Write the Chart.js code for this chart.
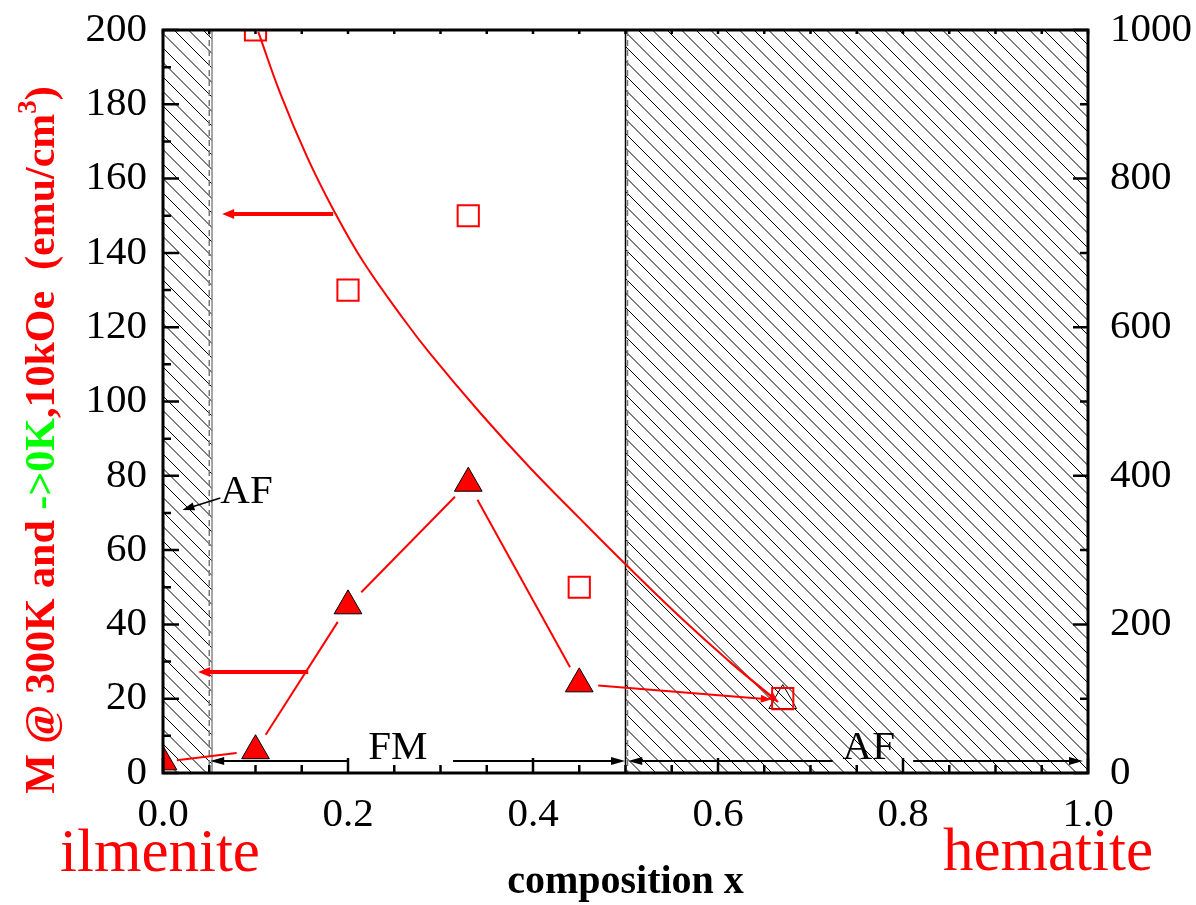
<!DOCTYPE html>
<html>
<head>
<meta charset="utf-8">
<script src="https://cdn.jsdelivr.net/npm/chart.js@4.4.1/dist/chart.umd.min.js"></script>
<style>
  body { margin: 0; background: #fff; }
  #chart { display: block; }
</style>
</head>
<body>
<canvas id="chart" width="1196" height="905"></canvas>
<script>
// データここから
const compX = [0, 0.1, 0.2, 0.33, 0.45, 0.67];
const m300K = [3, 6, 45, 78, 24, 19.5];

const squareX = [0.1, 0.2, 0.33, 0.45, 0.67];
const m0K = [200, 130, 150, 50, 20];

// 曲線 (画像から読んだ点)
const fitX = [0.103, 0.127, 0.156, 0.184, 0.216, 0.26, 0.289, 0.343, 0.397, 0.451, 0.502, 0.559, 0.613, 0.665];
const fitY = [199.5, 182.8, 165.7, 151.7, 137.8, 122.2, 112.8, 96.9, 82.1, 68.4, 55.7, 42.0, 29.9, 19.1];

const xTicks = [0, 0.2, 0.4, 0.6, 0.8, 1.0];
const yTicks = [0, 20, 40, 60, 80, 100, 120, 140, 160, 180, 200];
const y2Ticks = [0, 200, 400, 600, 800, 1000];

// AF 領域 (x の範囲)
const afRegions = [[0, 0.053], [0.5, 1.0]];
// データここまで

const RED = "#ff0000";
const GREEN = "#00ff00";
const SERIF = "'Liberation Serif', 'Times New Roman', serif";

Chart.defaults.font.family = SERIF;
Chart.defaults.color = "#000";

function toPoints(xs, ys) {
    return xs.map((v, i) => ({ x: v, y: ys[i] }));
}

// 矢印を描く
function arrow(ctx, x0, y0, x1, y1, len, half, color, width) {
    const ang = Math.atan2(y1 - y0, x1 - x0);
    ctx.save();
    ctx.strokeStyle = color;
    ctx.fillStyle = color;
    ctx.lineWidth = width;
    ctx.beginPath();
    ctx.moveTo(x0, y0);
    ctx.lineTo(x1 - Math.cos(ang) * len * 0.6, y1 - Math.sin(ang) * len * 0.6);
    ctx.stroke();
    ctx.beginPath();
    ctx.moveTo(x1, y1);
    ctx.lineTo(x1 - Math.cos(ang) * len + Math.sin(ang) * half, y1 - Math.sin(ang) * len - Math.cos(ang) * half);
    ctx.lineTo(x1 - Math.cos(ang) * len - Math.sin(ang) * half, y1 - Math.sin(ang) * len + Math.cos(ang) * half);
    ctx.closePath();
    ctx.fill();
    ctx.restore();
}

// 斜線の領域
const hatchPlugin = {
    id: "hatch",
    beforeDatasetsDraw(chart) {
        const { ctx, chartArea: a, scales } = chart;
        const x = scales.x;
        const h = a.bottom - a.top;
        for (const [x0, x1] of afRegions) {
            const l = x.getPixelForValue(x0);
            const r = x.getPixelForValue(x1);
            ctx.save();
            ctx.beginPath();
            ctx.rect(l, a.top, r - l, h);
            ctx.clip();
            ctx.strokeStyle = "#000";
            ctx.lineWidth = 1;
            ctx.beginPath();
            for (let s = a.left - h; s < a.right; s += 14.5) {
                ctx.moveTo(s, a.top);
                ctx.lineTo(s + h, a.bottom);
            }
            ctx.stroke();
            ctx.restore();
        }
        // 境界線
        ctx.save();
        const e1 = x.getPixelForValue(afRegions[0][1]);
        ctx.strokeStyle = "#888";
        ctx.lineWidth = 1.5;
        ctx.beginPath();
        ctx.moveTo(e1, a.top);
        ctx.lineTo(e1, a.bottom);
        ctx.stroke();
        const e2 = x.getPixelForValue(afRegions[1][0]);
        ctx.strokeStyle = "#000";
        ctx.beginPath();
        ctx.moveTo(e2, a.top);
        ctx.lineTo(e2, a.bottom);
        ctx.stroke();
        ctx.setLineDash([6, 4]);
        ctx.strokeStyle = "#777";
        ctx.beginPath();
        ctx.moveTo(x.getPixelForValue(0.05), a.top);
        ctx.lineTo(x.getPixelForValue(0.05), a.bottom);
        ctx.moveTo(e2 + 2, a.top);
        ctx.lineTo(e2 + 2, a.bottom);
        ctx.stroke();
        ctx.restore();

        // 三角の点をつなぐ線 (点の近くは空ける)
        const y = scales.y;
        for (let i = 0; i < compX.length - 1; i++) {
            const px0 = x.getPixelForValue(compX[i]), py0 = y.getPixelForValue(m300K[i]);
            const px1 = x.getPixelForValue(compX[i + 1]), py1 = y.getPixelForValue(m300K[i + 1]);
            const d = Math.hypot(px1 - px0, py1 - py0);
            const ux = (px1 - px0) / d, uy = (py1 - py0) / d;
            const last = i === compX.length - 2;
            const g0 = i === 0 ? 14 : 19;
            const g1 = last ? 12 : 19;
            if (last) {
                arrow(ctx, px0 + ux * g0, py0 + uy * g0, px1 - ux * g1, py1 - uy * g1, 10, 4, RED, 2);
            } else {
                ctx.save();
                ctx.strokeStyle = RED;
                ctx.lineWidth = 2;
                ctx.beginPath();
                ctx.moveTo(px0 + ux * g0, py0 + uy * g0);
                ctx.lineTo(px1 - ux * g1, py1 - uy * g1);
                ctx.stroke();
                ctx.restore();
            }
        }
    },
};

// 枠、目盛り、注記
const framePlugin = {
    id: "frame",
    afterDraw(chart) {
        const { ctx, chartArea: a, scales } = chart;
        const x = scales.x, y = scales.y, y2 = scales.y2;

        // 曲線の先の矢印
        const n = fitX.length;
        arrow(ctx,
            x.getPixelForValue(fitX[n - 2]), y.getPixelForValue(fitY[n - 2]),
            x.getPixelForValue(fitX[n - 1]), y.getPixelForValue(fitY[n - 1]),
            10, 4, RED, 2);

        // 赤い矢印 (どちらの軸か)
        arrow(ctx, x.getPixelForValue(0.184), y.getPixelForValue(150.5), x.getPixelForValue(0.064), y.getPixelForValue(150.5), 12, 5, RED, 4);
        arrow(ctx, x.getPixelForValue(0.157), y.getPixelForValue(27.2), x.getPixelForValue(0.038), y.getPixelForValue(27.2), 12, 5, RED, 4);

        // FM / AF の範囲矢印
        const yl = y.getPixelForValue(3.2);
        arrow(ctx, x.getPixelForValue(0.2), yl, x.getPixelForValue(0.051), yl, 14, 4, "#000", 2);
        arrow(ctx, x.getPixelForValue(0.3135), yl, x.getPixelForValue(0.4995), yl, 14, 4, "#000", 2);
        arrow(ctx, x.getPixelForValue(0.724), yl, x.getPixelForValue(0.503), yl, 14, 4, "#000", 2);
        arrow(ctx, x.getPixelForValue(0.811), yl, x.getPixelForValue(0.9946), yl, 14, 4, "#000", 2);
        arrow(ctx, x.getPixelForValue(0.062), y.getPixelForValue(74), x.getPixelForValue(0.021), y.getPixelForValue(70.8), 12, 4, "#000", 1.5);

        ctx.save();
        ctx.fillStyle = "#000";
        ctx.font = "41px " + SERIF;
        ctx.textBaseline = "alphabetic";
        ctx.textAlign = "center";
        ctx.fillText("FM", x.getPixelForValue(0.254), y.getPixelForValue(3.8));
        ctx.fillText("AF", x.getPixelForValue(0.763), y.getPixelForValue(3.8));
        ctx.textAlign = "left";
        ctx.fillText("AF", x.getPixelForValue(0.062), y.getPixelForValue(72.7));
        ctx.restore();

        // 内向きの目盛り
        ctx.save();
        ctx.strokeStyle = "#000";
        ctx.lineWidth = 2.5;
        ctx.beginPath();
        for (let k = 0; k <= 20; k++) {
            const v = k * 0.05;
            const px = x.getPixelForValue(v);
            const major = k % 4 === 0;
            ctx.moveTo(px, a.bottom);
            ctx.lineTo(px, a.bottom - (major ? 15 : 8));
            ctx.moveTo(px, a.top);
            ctx.lineTo(px, a.top + 4);
        }
        for (let v = 0; v <= 200; v += 10) {
            const py = y.getPixelForValue(v);
            ctx.moveTo(a.left, py);
            ctx.lineTo(a.left + (v % 20 === 0 ? 16 : 8), py);
        }
        for (let v = 0; v <= 1000; v += 100) {
            const py = y2.getPixelForValue(v);
            ctx.moveTo(a.right, py);
            ctx.lineTo(a.right - (v % 200 === 0 ? 15 : 8), py);
        }
        ctx.stroke();
        ctx.lineWidth = 3;
        ctx.strokeRect(a.left, a.top, a.right - a.left, a.bottom - a.top);
        ctx.restore();

        // ilmenite / hematite
        ctx.save();
        ctx.fillStyle = RED;
        ctx.font = "61px " + SERIF;
        ctx.textAlign = "center";
        ctx.textBaseline = "alphabetic";
        ctx.fillText("ilmenite", 160, 871);
        ctx.fillText("hematite", 1048, 870);
        ctx.restore();

        // 縦軸タイトル (色分け)
        const parts = [
            { t: "M @ 300K and ", c: RED },
            { t: "->0K", c: GREEN },
            { t: ",10kOe  (emu/cm", c: RED },
            { t: "3", c: RED, sup: true },
            { t: ")", c: RED },
        ];
        const big = "bold 42px " + SERIF;
        const small = "bold 27px " + SERIF;
        ctx.save();
        let total = 0;
        for (const p of parts) {
            ctx.font = p.sup ? small : big;
            p.w = ctx.measureText(p.t).width;
            total += p.w;
        }
        ctx.translate(54, 440);
        ctx.rotate(-Math.PI / 2);
        let cx = -total / 2;
        ctx.textAlign = "left";
        ctx.textBaseline = "alphabetic";
        for (const p of parts) {
            ctx.font = p.sup ? small : big;
            ctx.fillStyle = p.c;
            ctx.fillText(p.t, cx, p.sup ? -18 : 0);
            cx += p.w;
        }
        ctx.restore();
    },
};

const tickFont = { family: SERIF, size: 41, lineHeight: 1 };

// 軸ラベルのはみ出し分の余白をなくす
function noPad(s) {
    s.paddingTop = 0;
    s.paddingBottom = 0;
    s.paddingLeft = 0;
    s.paddingRight = 0;
}

const chart = new Chart(document.getElementById("chart"), {
    type: "scatter",
    data: {
        datasets: [
            {
                label: "->0K",
                data: toPoints(squareX, m0K),
                pointStyle: "rect",
                pointRadius: 15,
                pointBorderWidth: 2,
                pointBorderColor: RED,
                pointBackgroundColor: "rgba(255,255,255,0)",
                yAxisID: "y",
            },
            {
                label: "fit",
                data: toPoints(fitX, fitY),
                showLine: true,
                tension: 0.4,
                borderColor: RED,
                borderWidth: 2,
                pointRadius: 0,
                yAxisID: "y",
            },
            {
                label: "300K",
                data: toPoints(compX, m300K),
                pointStyle: "triangle",
                pointRadius: 16,
                pointBorderWidth: 1,
                pointBorderColor: "#000",
                pointBackgroundColor: [RED, RED, RED, RED, RED, "rgba(255,255,255,0)"],
                yAxisID: "y",
            },
        ],
    },
    options: {
        responsive: false,
        animation: false,
        devicePixelRatio: 1,
        layout: { padding: { top: 30, left: 0, right: 0, bottom: 0 } },
        plugins: {
            legend: { display: false },
            tooltip: { enabled: false },
        },
        scales: {
            x: {
                type: "linear",
                min: 0,
                max: 1,
                afterBuildTicks: (s) => { s.ticks = xTicks.map((v) => ({ value: v })); },
                afterFit: (s) => { s.height = 132; noPad(s); },
                grid: { display: false, drawTicks: false },
                border: { display: false },
                ticks: {
                    font: tickFont,
                    padding: 22,
                    maxRotation: 0,
                    callback: (v) => v.toFixed(1),
                },
                title: {
                    display: true,
                    text: "composition x",
                    font: { family: SERIF, size: 40, weight: "bold", lineHeight: 1 },
                    padding: { top: 0, bottom: 2 },
                },
            },
            y: {
                position: "left",
                min: 0,
                max: 200,
                afterBuildTicks: (s) => { s.ticks = yTicks.map((v) => ({ value: v })); },
                afterFit: (s) => { s.width = 163; noPad(s); },
                grid: { display: false, drawTicks: false },
                border: { display: false },
                ticks: { font: tickFont, padding: 16 },
            },
            y2: {
                position: "right",
                min: 0,
                max: 1000,
                afterBuildTicks: (s) => { s.ticks = y2Ticks.map((v) => ({ value: v })); },
                afterFit: (s) => { s.width = 108; noPad(s); },
                grid: { display: false, drawTicks: false },
                border: { display: false },
                ticks: { font: tickFont, padding: 22, callback: (v) => String(v) },
            },
        },
    },
    plugins: [hatchPlugin, framePlugin],
});
</script>
</body>
</html>
